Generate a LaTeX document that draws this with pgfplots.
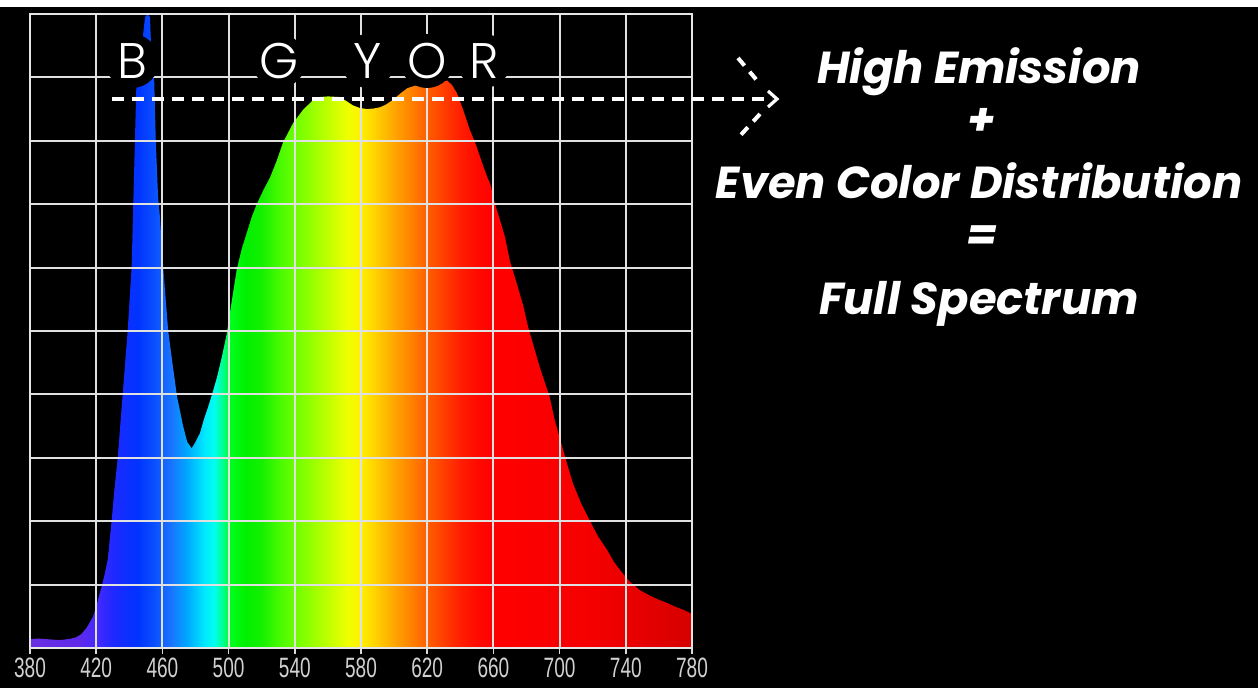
\documentclass[border=0pt]{standalone}
\usepackage{fontspec}
\setmainfont{Poppins}
\usepackage{pgfplots}
\pgfplotsset{compat=1.18}
\usetikzlibrary{arrows.meta}
\newfontfamily\headfont{Poppins}
\newfontfamily\letterfont{Poppins Light}
\newfontfamily\tickfont{Liberation Sans}[FakeStretch=0.68]

\pgfdeclarehorizontalshading{spectrum}{100bp}{
rgb(0bp)=(0.41,0.18,0.88);
rgb(25bp)=(0.41,0.18,0.88);
rgb(28.75bp)=(0.37,0.16,0.92);
rgb(30bp)=(0.27,0.16,1);
rgb(31.25bp)=(0.12,0.16,1);
rgb(33.125bp)=(0,0.2,1);
rgb(34.375bp)=(0.04,0.31,1);
rgb(35.625bp)=(0.1,0.45,1);
rgb(36.875bp)=(0,0.66,1);
rgb(38.125bp)=(0,0.9,1);
rgb(38.9bp)=(0,1,0.94);
rgb(39.5bp)=(0,1,0.6);
rgb(40.1bp)=(0,1,0.12);
rgb(41.25bp)=(0,0.94,0);
rgb(42.5bp)=(0.08,0.94,0);
rgb(43.75bp)=(0.27,0.98,0);
rgb(45.625bp)=(0.51,1,0);
rgb(47.5bp)=(0.75,1,0);
rgb(49bp)=(0.94,1,0);
rgb(50bp)=(1,0.94,0);
rgb(51.25bp)=(1,0.8,0);
rgb(52.5bp)=(1,0.65,0);
rgb(53.75bp)=(1,0.51,0);
rgb(55bp)=(1,0.37,0);
rgb(56.25bp)=(1,0.24,0);
rgb(57.5bp)=(1,0.12,0);
rgb(58.75bp)=(1,0.04,0);
rgb(60bp)=(1,0,0);
rgb(67.5bp)=(0.96,0,0);
rgb(75bp)=(0.84,0,0);
rgb(100bp)=(0.84,0,0)}

\begin{document}
\begin{tikzpicture}
\begin{scope}[x=0.5pt,y=-0.5pt]
\fill[black] (0,0) rectangle (1258,688);
\fill[white] (0,0) rectangle (1258,7);
\end{scope}
\begin{axis}[
  at={(15pt,-324pt)}, anchor=south west,
  scale only axis, width=331pt, height=317pt,
  xmin=380, xmax=780, ymin=0, ymax=10,
  xtick={380,420,460,500,540,580,620,660,700,740,780},
  xticklabels={380,420,460,500,540,580,620,660,700,740,780},
  ytick={0,1,2,3,4,5,6,7,8,9,10}, yticklabels={},
  grid=major,
  major grid style={draw=white!88!black, line width=1pt},
  axis line style={draw=white!90!black, line width=1.2pt},
  axis on top,
  xtick pos=bottom, tick align=outside, major tick length=3pt,
  xtick style={draw=white!85!black, line width=0.8pt},
  ytick style={draw=none},
  xticklabel style={font=\tickfont\fontsize{14}{14}\selectfont, text=white!82!black, inner sep=1pt, yshift=-1pt},
]
\addplot[draw=none, shading=spectrum] table {
nm v
380 0.14
385 0.15
390 0.14
395 0.13
400 0.13
405 0.15
408 0.17
411 0.22
414 0.31
416 0.40
418 0.49
420 0.65
421.5 0.80
423.5 0.99
425 1.15
427 1.4
429.3 2.0
431 2.5
433 3.0
436 4.0
439 5.0
441.4 6.0
442.4 7.0
443.4 8.0
444.4 9.0
446 9.3
448 9.6
449.5 9.95
451 10.0
452.5 9.95
453 9.6
455 9.0
456 8.0
457.4 7.1
458.5 6.8
460.5 6.0
463.5 5.0
466.4 4.43
468.8 3.97
472.6 3.49
475 3.25
477.7 3.15
480 3.25
482.7 3.39
485 3.6
487.6 3.8
490 4.0
493 4.27
496 4.6
499 4.97
502 5.49
505 5.98
508 6.3
511 6.55
514 6.8
517 7.0
521 7.22
525 7.42
529 7.68
533 7.98
539 8.28
545 8.49
551 8.64
555 8.69
560 8.70
567 8.69
571 8.63
575 8.56
579 8.52
583.5 8.5
588 8.51
591.6 8.53
595 8.57
599 8.64
604 8.75
608 8.83
614 8.88
620 8.90
626 8.92
632 8.95
635 8.88
638 8.75
641.7 8.49
645.8 8.17
649 7.97
654 7.59
656.7 7.4
658 7.33
661 7.0
664 6.75
667 6.48
670 6.1
674 5.76
678 5.4
681 5.06
685 4.7
688 4.43
694 3.96
697 3.6
701 3.23
704 2.95
708 2.60
713 2.28
718 2.02
723 1.77
728.6 1.55
733 1.35
738 1.18
743 1.03
748.6 0.91
755 0.82
760 0.76
765 0.71
770 0.65
775 0.60
779 0.55
780 0.54
} \closedcycle;
\end{axis}
\begin{scope}[x=0.5pt,y=-0.5pt]
\foreach \px/\l in {132/B,279/G,368/Y,427/O,484/R}{
  \node[circle, fill=black, minimum size=27pt, inner sep=0pt, text=white,
        font=\letterfont\fontsize{25}{25}\selectfont] at (\px,61) {\l};
}
\draw[white, line width=2pt, dash pattern=on 6pt off 4pt] (112,99) -- (772,99);
\draw[white, line width=1.6pt] (768,91) -- (777,99) -- (768,107);
\draw[white, line width=2pt, dash pattern=on 5pt off 4pt] (738,58) -- (760,84);
\draw[white, line width=2pt, dash pattern=on 5pt off 4pt] (760,114) -- (738,138);
\node[anchor=base, text=white, font=\headfont\bfseries\itshape\fontsize{22.4}{22.4}\selectfont] at (979,84) {High Emission};
\node[text=white, font=\headfont\bfseries\itshape\fontsize{22.4}{22.4}\selectfont] at (982,122) {+};
\node[anchor=base, text=white, font=\headfont\bfseries\itshape\fontsize{22.4}{22.4}\selectfont] at (979,199) {Even Color Distribution};
\node[text=white, font=\headfont\bfseries\itshape\fontsize{22.4}{22.4}\selectfont] at (982,238) {=};
\node[anchor=base, text=white, font=\headfont\bfseries\itshape\fontsize{22.4}{22.4}\selectfont] at (979,315) {Full Spectrum};
\end{scope}
\pgfresetboundingbox
\useasboundingbox (0,0) rectangle (629pt,-344pt);
\end{tikzpicture}
\end{document}
